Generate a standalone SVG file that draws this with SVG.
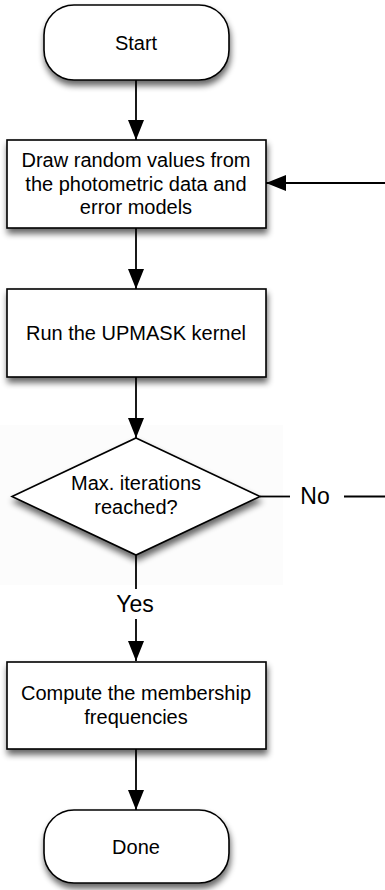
<svg xmlns="http://www.w3.org/2000/svg" width="385" height="890" viewBox="0 0 385 890">
<style>
.shape{fill:#ffffff;stroke:#000000;stroke-width:1.6;filter:url(#shadow)}
.t{font-family:"Liberation Sans",Arial,Helvetica,sans-serif;font-size:20px;fill:#000000;text-anchor:middle}
.lbl{font-family:"Liberation Sans",Arial,Helvetica,sans-serif;font-size:23px;fill:#000000;text-anchor:middle}
.c{fill:none;stroke:#000000;stroke-width:1.8}
.arr{marker-end:url(#ah)}
</style>
<defs>
<filter id="shadow" x="-20%" y="-20%" width="140%" height="160%">
<feGaussianBlur in="SourceAlpha" stdDeviation="3"/>
<feOffset dx="1" dy="5" result="b"/>
<feComponentTransfer><feFuncA type="linear" slope="0.6"/></feComponentTransfer>
<feMerge><feMergeNode/><feMergeNode in="SourceGraphic"/></feMerge>
</filter>
<marker id="ah" viewBox="0 0 20 16" refX="20" refY="8" markerWidth="20" markerHeight="16" markerUnits="userSpaceOnUse" orient="auto">
<path d="M0,0 L20,8 L0,16 z" fill="#000000"/>
</marker>
</defs>
<rect x="0" y="0" width="385" height="890" fill="#ffffff"/>
<rect x="0" y="425" width="283" height="160" fill="#fcfcfc"/>
<g id="connectors">
<path class="c arr" d="M136,80 L136,140"/>
<path class="c arr" d="M136,228 L136,289"/>
<path class="c arr" d="M136,377 L136,438"/>
<path class="c arr" d="M385,183 L266,183"/>
<path class="c" d="M136,555 L136,589"/>
<path class="c arr" d="M136,619 L136,661"/>
<path class="c arr" d="M136,749 L136,810"/>
<path class="c" d="M260,496.5 L290,496.5"/>
<path class="c" d="M344,496.5 L385,496.5"/>
<text class="lbl" x="315" y="504">No</text>
<text class="lbl" x="135" y="612">Yes</text>
</g>
<g id="start">
<rect class="shape" x="44" y="5" width="185" height="75" rx="30" ry="30"/>
<text class="t" x="136" y="50">Start</text>
</g>
<g id="draw">
<rect class="shape" x="7" y="140" width="259" height="88"/>
<text class="t" x="136" y="167">Draw random values from</text>
<text class="t" x="136" y="190.5">the photometric data and</text>
<text class="t" x="136" y="214">error models</text>
</g>
<g id="run">
<rect class="shape" x="7" y="289" width="259" height="88"/>
<text class="t" x="136" y="340">Run the UPMASK kernel</text>
</g>
<g id="decision">
<polygon class="shape" points="136,438 260,496.5 136,555 12,496.5"/>
<text class="t" x="136" y="490">Max. iterations</text>
<text class="t" x="136" y="514">reached?</text>
</g>
<g id="compute">
<rect class="shape" x="7" y="662" width="259" height="87"/>
<text class="t" x="136" y="700">Compute the membership</text>
<text class="t" x="136" y="724">frequencies</text>
</g>
<g id="done">
<rect class="shape" x="44" y="810" width="185" height="73" rx="30" ry="30"/>
<text class="t" x="136" y="854">Done</text>
</g>
</svg>
